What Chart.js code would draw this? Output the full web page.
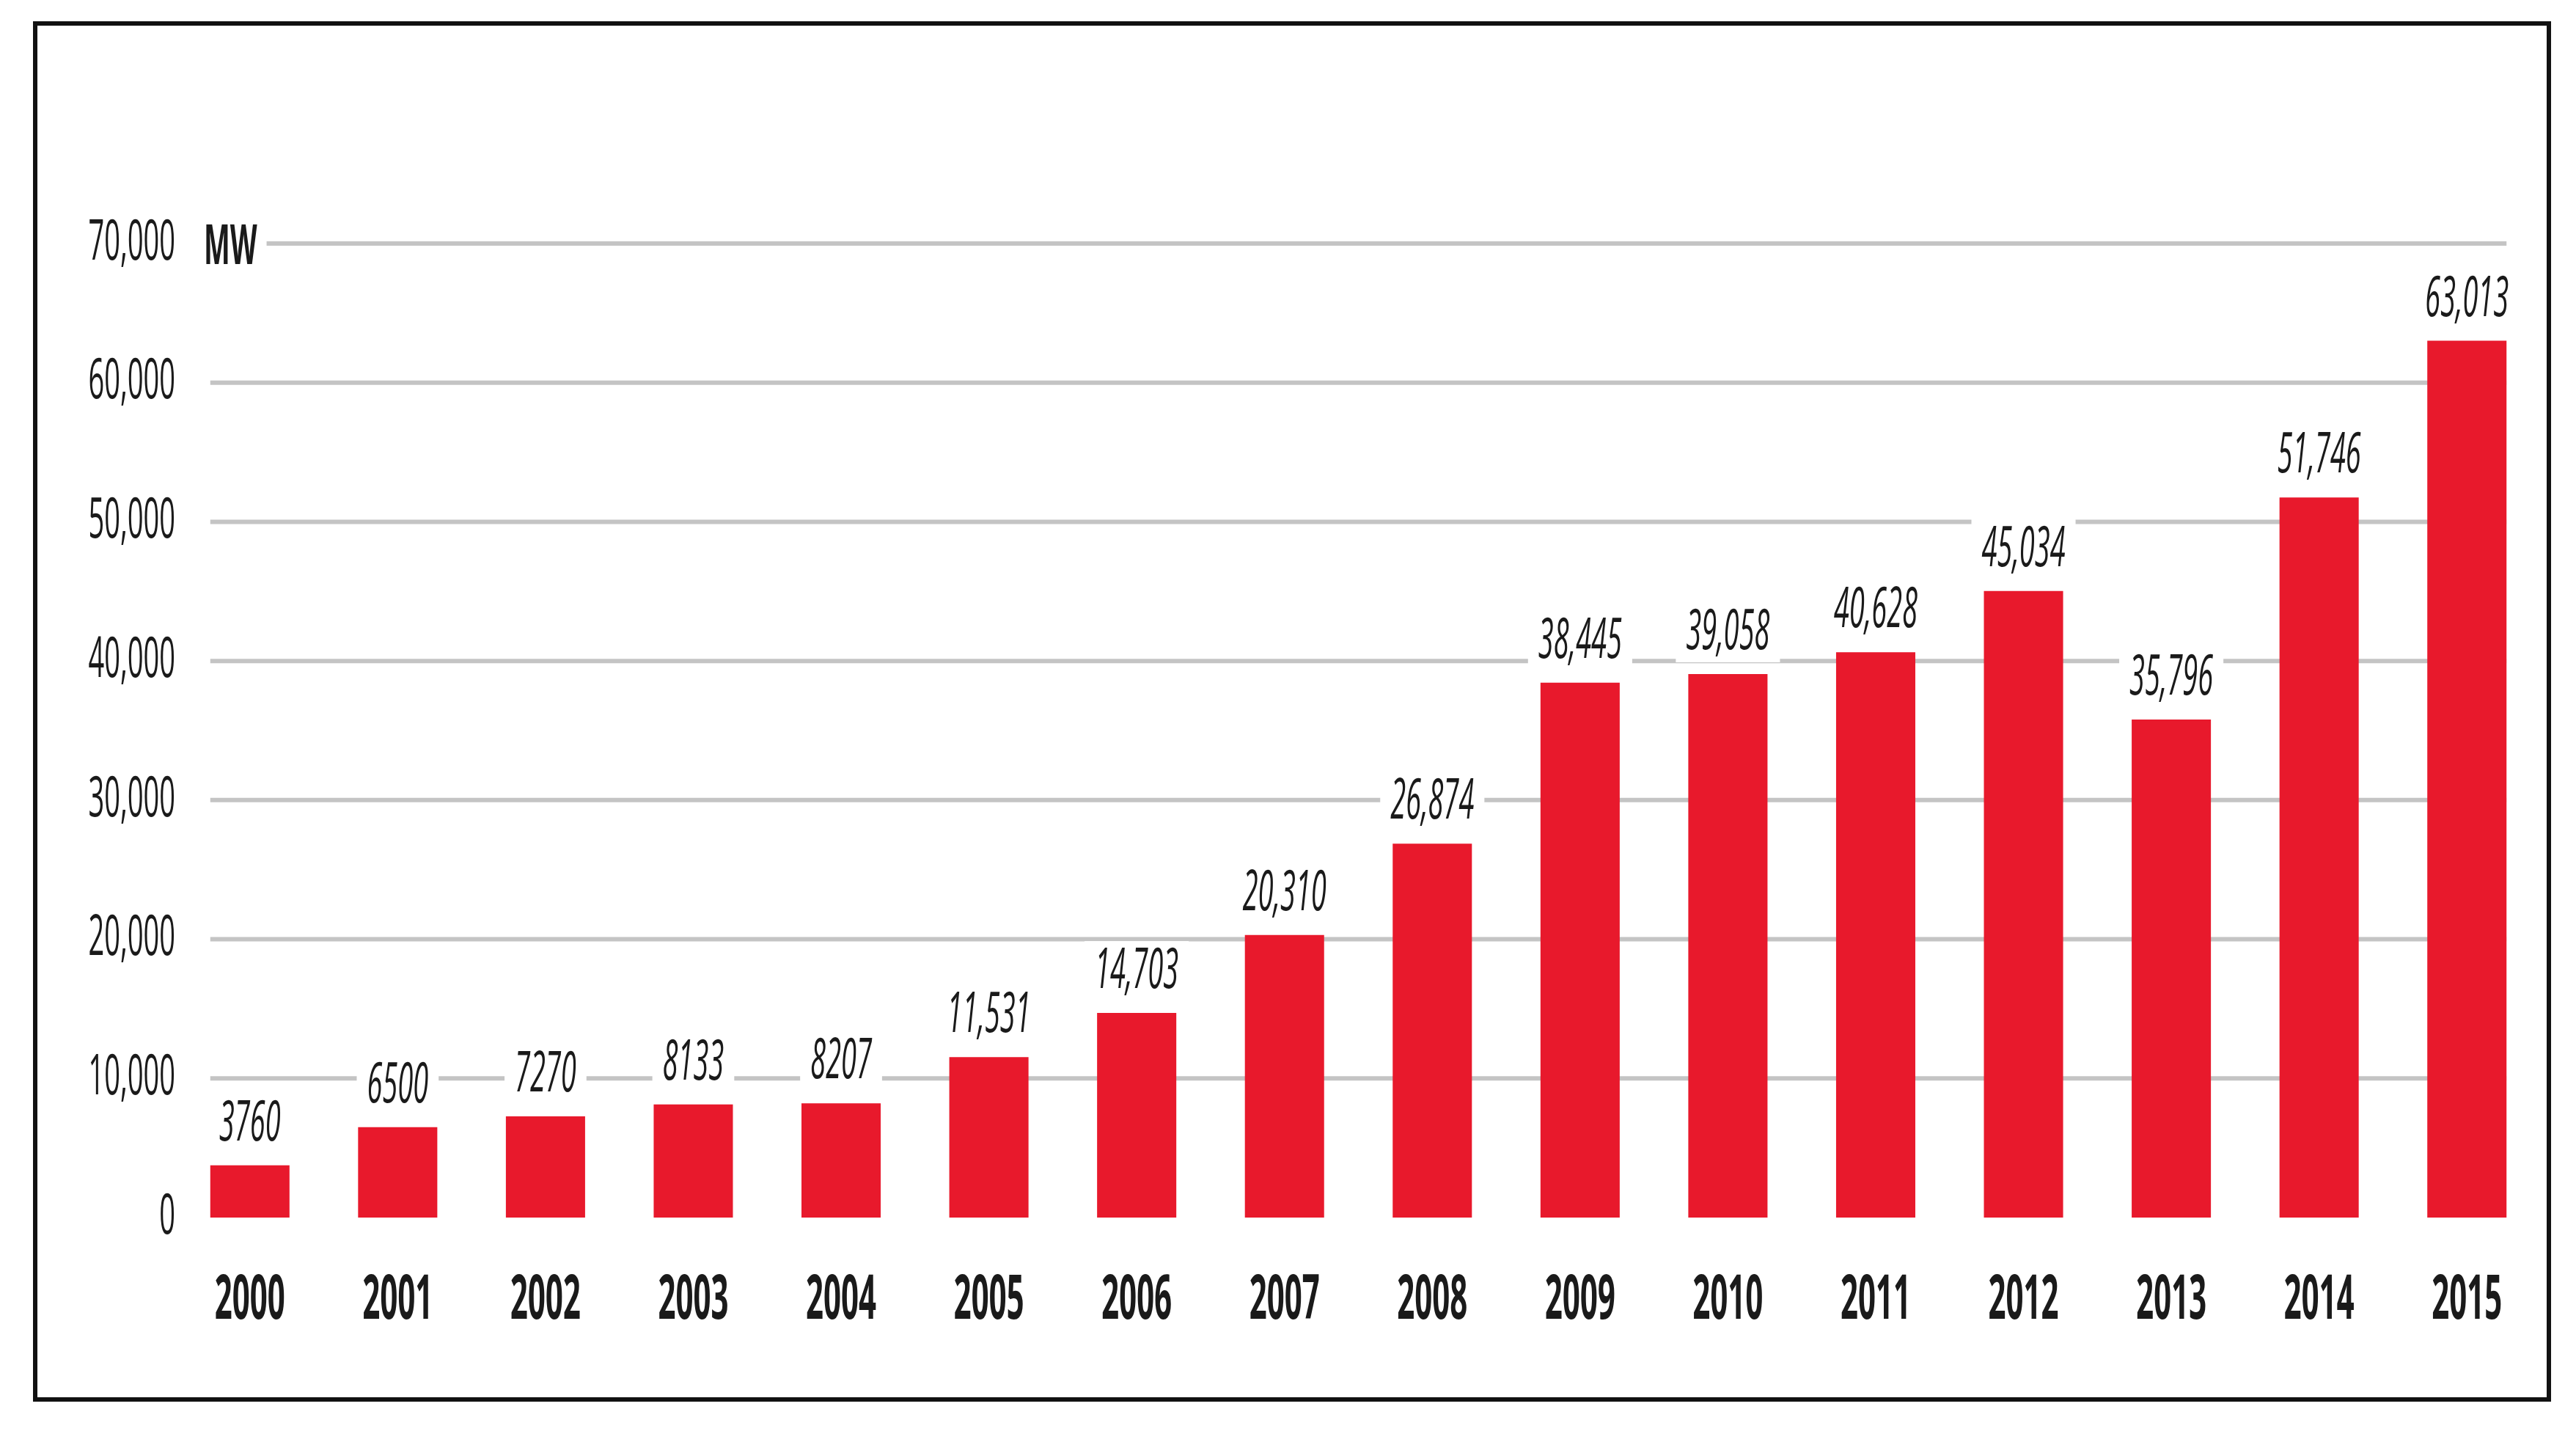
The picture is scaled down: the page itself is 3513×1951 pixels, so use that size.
<!DOCTYPE html>
<html>
<head>
<meta charset="utf-8">
<script src="https://cdn.jsdelivr.net/npm/chart.js@4.4.1/dist/chart.umd.min.js"></script>
<style>
  html, body { margin: 0; padding: 0; background: #fff; }
  #page { position: relative; width: 3513px; height: 1951px; overflow: hidden; background: #fff; }
  #chart { position: absolute; left: 0; top: 0; transform: scaleX(0.5); transform-origin: 0 0; }
  #frame { position: absolute; left: 45px; top: 29px; width: 3422px; height: 1870px; border: 6px solid #111; }
</style>
</head>
<body>
<div id="page">
  <canvas id="chart" width="7026" height="1951"></canvas>
  <div id="frame"></div>
</div>
<script>
// the type in the original is a condensed face, so the chart is drawn twice as wide
// and squeezed back with scaleX(0.5) on the canvas
const years = ["2000", "2001", "2002", "2003", "2004", "2005", "2006", "2007",
  "2008", "2009", "2010", "2011", "2012", "2013", "2014", "2015"];
const capacityMW = [3760, 6500, 7270, 8133, 8207, 11531, 14703, 20310,
  26874, 38445, 39058, 40628, 45034, 35796, 51746, 63013];
const yTicks = [0, 10000, 20000, 30000, 40000, 50000, 60000, 70000];
const unitLabel = "MW";

const family = "'Open Sans', 'Noto Sans', 'Liberation Sans', sans-serif";
const barColor = "#e8192c";
const gridColor = "#c4c4c4";
const textColor = "#1a1a1a";

const numberFormatter = new Intl.NumberFormat("en-US");

function formatValue(value) {
  // small values are printed without a thousands separator in the source
  return value >= 10000 ? numberFormatter.format(value) : String(value);
}

const gridPlugin = {
  id: "barGrid",
  beforeDatasetsDraw(chart) {
    const { ctx } = chart;
    const yScale = chart.scales.y;
    const bars = chart.getDatasetMeta(0).data;
    const first = bars[0];
    const last = bars[bars.length - 1];
    const x0 = first.x - first.width / 2;
    const x1 = last.x + last.width / 2;
    ctx.save();
    ctx.strokeStyle = gridColor;
    ctx.lineWidth = 6;
    yTicks.forEach((value) => {
      if (value === 0) return;
      const py = yScale.getPixelForValue(value);
      ctx.beginPath();
      ctx.moveTo(x0, py);
      ctx.lineTo(x1, py);
      ctx.stroke();
    });
    ctx.restore();
  },
};

const labelPlugin = {
  id: "barLabels",
  afterDatasetsDraw(chart) {
    const { ctx } = chart;
    ctx.save();
    ctx.font = "italic 76px " + family;
    ctx.textAlign = "center";
    ctx.textBaseline = "alphabetic";
    chart.getDatasetMeta(0).data.forEach((bar, i) => {
      const text = formatValue(capacityMW[i]);
      const w = ctx.measureText(text).width;
      const base = bar.y - 34;
      ctx.fillStyle = "#fff";
      ctx.fillRect(bar.x - w / 2 - 28, base - 64, w + 56, 82);
      ctx.fillStyle = textColor;
      ctx.fillText(text, bar.x, base);
    });

    // unit next to the top tick, masking the start of its grid line
    const yScale = chart.scales.y;
    const top = yScale.getPixelForValue(yTicks[yTicks.length - 1]);
    ctx.font = "bold 76px " + family;
    ctx.textAlign = "left";
    ctx.textBaseline = "middle";
    const mx = chart.chartArea.left + 76;
    const mw = ctx.measureText(unitLabel).width;
    ctx.fillStyle = "#fff";
    ctx.fillRect(mx - 10, top - 45, mw + 36, 90);
    ctx.fillStyle = textColor;
    ctx.fillText(unitLabel, mx, top + 6);
    ctx.restore();
  },
};

new Chart(document.getElementById("chart"), {
  type: "bar",
  data: {
    labels: years,
    datasets: [
      {
        label: "MW",
        data: capacityMW,
        backgroundColor: barColor,
        borderWidth: 0,
        categoryPercentage: 1,
        barPercentage: 0.536,
      },
    ],
  },
  options: {
    responsive: false,
    animation: false,
    devicePixelRatio: 1,
    layout: { padding: { top: 332, right: 96, left: 0, bottom: 0 } },
    plugins: {
      legend: { display: false },
      tooltip: { enabled: false },
    },
    scales: {
      x: {
        grid: { display: false, drawTicks: false },
        border: { display: false },
        ticks: {
          color: textColor,
          padding: 72,
          font: { family, size: 84, weight: "bold", lineHeight: 1 },
        },
        afterFit: (scale) => { scale.height = 291; },
      },
      y: {
        min: 0,
        max: 70000,
        grid: { display: false, drawTicks: false },
        border: { display: false },
        ticks: {
          stepSize: 10000,
          color: textColor,
          padding: 2,
          font: { family, size: 76, lineHeight: 1 },
          callback: (value) => numberFormatter.format(value),
        },
        afterFit: (scale) => { scale.width = 480; },
      },
    },
  },
  plugins: [gridPlugin, labelPlugin],
});
</script>
</body>
</html>
